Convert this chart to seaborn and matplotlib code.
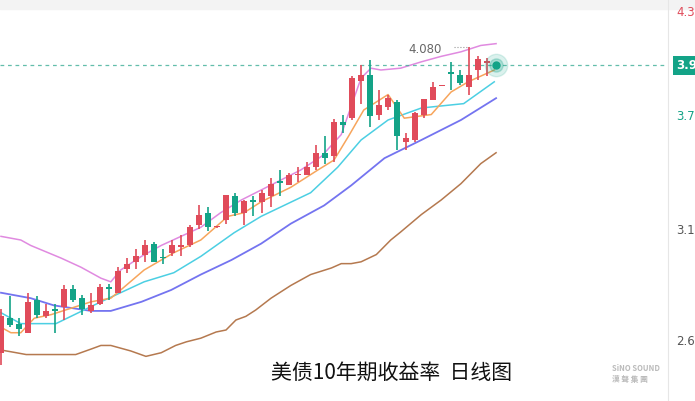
import matplotlib
matplotlib.use("Agg")
import matplotlib.pyplot as plt
from matplotlib import font_manager
import seaborn as sns
import numpy as np
import pandas as pd

opens  = [2.43,2.62,2.59,2.54,2.72,2.63,2.665,2.68,2.78,2.73,2.66,2.70,2.79,2.76,2.89,2.93,2.97,3.03,2.955,2.98,3.01,3.02,3.13,3.20,3.12,3.16,3.29,3.20,3.265,3.26,3.29,3.37,3.35,3.405,3.41,3.45,3.53,3.51,3.70,3.72,3.925,3.96,3.74,3.78,3.81,3.59,3.60,3.74,3.82,3.895,3.97,3.96,3.89,3.985,4.025]
closes = [2.63,2.58,2.56,2.71,2.64,2.66,2.66,2.78,2.72,2.67,2.69,2.79,2.78,2.88,2.92,2.96,3.02,2.93,2.95,3.02,3.02,3.12,3.19,3.12,3.125,3.30,3.20,3.265,3.26,3.31,3.36,3.365,3.41,3.41,3.45,3.53,3.50,3.70,3.68,3.94,3.96,3.73,3.79,3.83,3.62,3.61,3.75,3.825,3.89,3.90,3.965,3.915,3.96,4.045,4.03]
highs  = [2.67,2.74,2.62,2.76,2.74,2.70,2.70,2.80,2.80,2.75,2.76,2.81,2.81,2.90,2.95,3.00,3.05,3.04,3.00,3.05,3.08,3.13,3.24,3.23,3.125,3.30,3.31,3.27,3.29,3.325,3.39,3.435,3.42,3.45,3.48,3.57,3.62,3.715,3.74,3.95,4.01,4.04,3.875,3.85,3.82,3.64,3.755,3.825,3.92,3.90,4.03,3.985,4.11,4.06,4.05]
lows   = [2.36,2.57,2.52,2.54,2.62,2.62,2.54,2.61,2.71,2.64,2.65,2.69,2.72,2.76,2.87,2.89,2.93,2.93,2.92,2.96,2.96,3.01,3.11,3.10,3.115,3.14,3.18,3.13,3.18,3.20,3.23,3.29,3.35,3.37,3.41,3.435,3.47,3.48,3.64,3.71,3.80,3.67,3.71,3.765,3.545,3.545,3.59,3.72,3.82,3.895,3.875,3.90,3.85,3.93,3.95]

pink_idx = [0,2.2,3.3,6.7,8.9,11.1,12.2,13.3,15.6,17.8,20,22.2,24.4,26.7,28.9,31.1,33.3,35.6,37.8,40,41.1,42.2,44.4,46.7,48.9,51.1,53.3,55]
pink_val = [3.07,3.05,3.02,2.95,2.90,2.84,2.82,2.885,2.96,3.02,3.07,3.12,3.20,3.27,3.325,3.38,3.435,3.51,3.63,3.94,3.995,3.985,3.995,4.03,4.06,4.085,4.12,4.13]
orange_idx = [0,1.1,2.2,3.7,5.6,10,12.2,13.3,15.9,19.2,22.2,25.2,27,28.9,32.2,35.2,37,38.6,40.3,43,44.8,47.8,50,51.9,54.8]
orange_val = [2.57,2.54,2.54,2.62,2.64,2.71,2.73,2.775,2.885,2.98,3.05,3.18,3.20,3.26,3.34,3.435,3.49,3.62,3.765,3.85,3.72,3.74,3.864,3.92,3.985]
cyan_idx = [0,2.2,6.1,11.1,15.9,19.2,22.2,25.9,28.9,34.4,37.4,40,43,46.7,51.4,54.8]
cyan_val = [2.65,2.59,2.59,2.71,2.82,2.87,2.96,3.09,3.18,3.31,3.45,3.60,3.71,3.776,3.80,3.92]
blue_idx = [0,3.3,5.9,10,12.2,15.6,18.9,22.2,25.6,28.9,32.2,35.9,38.9,42.6,46.7,51.1,55]
blue_val = [2.76,2.73,2.69,2.66,2.66,2.71,2.775,2.86,2.94,3.03,3.14,3.24,3.35,3.50,3.60,3.71,3.83]
brown_idx = [0,1.7,2.8,4.4,6.7,8.3,10,11.1,12.2,14.4,16.1,17.8,19.4,20.6,22.2,23.9,25,26.1,27.2,28.3,30,32.2,34.4,36.7,37.8,38.9,40,41.7,43.3,44.4,46.7,48.9,51.1,53.3,55]
brown_val = [2.445,2.43,2.42,2.42,2.42,2.42,2.45,2.47,2.47,2.44,2.41,2.43,2.47,2.49,2.51,2.544,2.555,2.61,2.63,2.665,2.73,2.80,2.86,2.896,2.92,2.92,2.93,2.97,3.05,3.094,3.19,3.27,3.36,3.47,3.53]

tick_vals = [4.30, 3.73, 3.105, 2.49]
tick_labels = ["4.3", "3.7", "3.1", "2.6"]
last_price = 4.01
last_label = "3.9"
high_label = "4.080"
title = "美债10年期收益率  日线图"

avail = {f.name for f in font_manager.fontManager.ttflist}
cjk = next((n for n in ["Noto Sans CJK SC", "Noto Sans CJK JP", "Noto Sans CJK TC", "Noto Sans CJK KR"] if n in avail), "DejaVu Sans")

RED = "#e04b5a"; GREEN = "#13a387"
fig = plt.figure(figsize=(6.95, 4.01), dpi=100)
ax = fig.add_axes([0, 0, 668/695, 1])
ax.set_xlim(-0.11, 74.1)
ax.set_ylim(4.37 - 0.0055*401, 4.37)

for name, xi, yv, c, lw in [("pink", pink_idx, pink_val, "#e08ae0", 1.1),
                             ("brown", brown_idx, brown_val, "#b5794f", 1.1),
                             ("blue", blue_idx, blue_val, "#7474f0", 1.3),
                             ("cyan", cyan_idx, cyan_val, "#4ccfe3", 1.1),
                             ("orange", orange_idx, orange_val, "#f7a55c", 1.1)]:
    sns.lineplot(x=xi, y=yv, ax=ax, color=c, lw=lw, sort=False, estimator=None)

df = pd.DataFrame(dict(o=opens, c=closes, h=highs, l=lows))
df["i"] = np.arange(len(df))
for _, r in df.iterrows():
    col = RED if r.c >= r.o else GREEN
    ax.vlines(r.i, r.l, r.h, color=col, lw=1.2, zorder=3)
    bot = min(r.o, r.c); ht = max(abs(r.c - r.o), 0.008)
    ax.bar(r.i, ht, bottom=bot, width=0.75, color=col, zorder=4)

ax.axhline(last_price, color="#3cae96", ls=(0, (3, 3)), lw=0.9, alpha=0.8)
ax.scatter([55], [last_price], s=260, color="#13a387", alpha=0.15, zorder=5)
ax.scatter([55], [last_price], s=90, color="#13a387", alpha=0.25, zorder=5)
ax.scatter([55], [last_price], s=25, color="#13a387", zorder=6)
ax.text(47.1, 4.098, high_label, fontsize=8.5, color="#666666", ha="center", va="center")
ax.plot([50.3, 52], [4.11, 4.11], color="#999999", lw=0.8, ls=":")

ax.set_axis_off()
fig.text(271/695, 1 - 373/401, title, fontsize=15, family=cjk, va="center", color="#111111")
fig.text(612/695, 1 - 374/401, "SiNO SOUND\n漢 聲 集 團", fontsize=5.5, color="#bbbbbb", va="center", family=cjk, fontweight="bold")

fig.patches.append(plt.Rectangle((0, 1 - 9/401), 1, 9/401, transform=fig.transFigure, color="#f3f3f3", zorder=0))
fig.add_artist(plt.Line2D([668/695, 668/695], [0, 1], transform=fig.transFigure, color="#e6e6e6", lw=0.8))
cols = [RED, GREEN, "#555555", "#555555"]
for v, lab, c in zip(tick_vals, tick_labels, cols):
    yf = (v - (4.37 - 0.0055*401)) / (0.0055*401)
    fig.text(676/695, yf, lab, fontsize=8.5, color=c, va="center")
yf = (last_price - (4.37 - 0.0055*401)) / (0.0055*401)
fig.text(676/695, yf, last_label, fontsize=8.5, color="white", va="center", fontweight="bold",
         bbox=dict(boxstyle="square,pad=0.25", fc=GREEN, ec="none"))
fig.savefig("out.png", dpi=100)
